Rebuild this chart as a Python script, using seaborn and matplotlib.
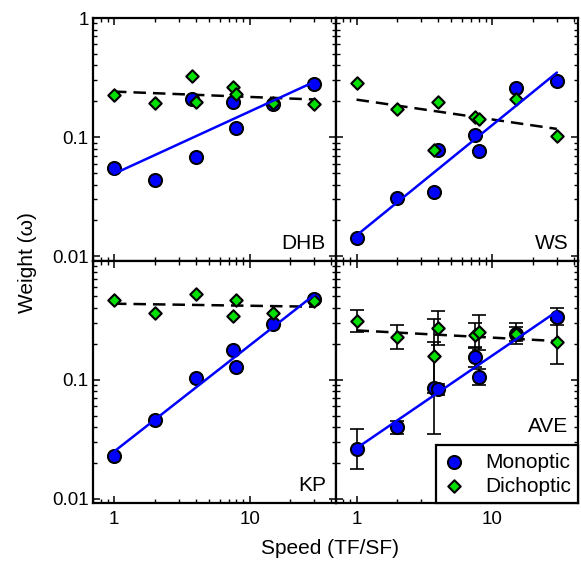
import numpy as np
import pandas as pd
import matplotlib
matplotlib.use('Agg')
import matplotlib.pyplot as plt
import seaborn as sns

# speeds (TF/SF) used in the experiment; KP has no 3.75 condition
speed = [1, 2, 3.75, 4, 7.5, 8, 15, 30]
speed_kp = [1, 2, 4, 7.5, 8, 15, 30]

# weights
dhb_mono = [0.055, 0.044, 0.208, 0.068, 0.198, 0.120, 0.188, 0.277]
dhb_dich = [0.228, 0.194, 0.326, 0.198, 0.262, 0.230, 0.192, 0.189]

ws_mono = [0.0143, 0.031, 0.0347, 0.078, 0.105, 0.077, 0.259, 0.295]
ws_dich = [0.283, 0.173, 0.078, 0.197, 0.148, 0.142, 0.211, 0.103]

kp_mono = [0.0227, 0.0455, 0.103, 0.178, 0.127, 0.291, 0.479]
kp_dich = [0.470, 0.360, 0.528, 0.341, 0.470, 0.360, 0.458]

ave_mono = [0.026, 0.040, 0.085, 0.083, 0.155, 0.105, 0.242, 0.338]
ave_mono_lo = [0.0177, 0.035, 0.035, 0.074, 0.128, 0.090, 0.212, 0.285]
ave_mono_hi = [0.0388, 0.045, 0.208, 0.092, 0.187, 0.123, 0.276, 0.400]

ave_dich = [0.310, 0.228, 0.158, 0.272, 0.235, 0.250, 0.243, 0.206]
ave_dich_lo = [0.250, 0.182, 0.078, 0.197, 0.184, 0.176, 0.200, 0.135]
ave_dich_hi = [0.385, 0.287, 0.326, 0.379, 0.302, 0.352, 0.297, 0.320]

BLUE = '#0000ff'
GREEN = '#00e000'

sns.set_theme(style='ticks')
plt.rcParams['font.family'] = ['Liberation Sans', 'DejaVu Sans']
plt.rcParams['text.color'] = 'black'
plt.rcParams['xtick.labelcolor'] = 'black'
plt.rcParams['ytick.labelcolor'] = 'black'
plt.rcParams['axes.linewidth'] = 1.6


def power_fit(x, y):
    """straight line in log-log space, drawn between the first and last speed"""
    slope, icpt = np.polyfit(np.log10(x), np.log10(y), 1)
    fx = np.array([min(x), max(x)], dtype=float)
    fy = 10 ** (icpt + slope * np.log10(fx))
    return pd.DataFrame({'speed': fx, 'weight': fy})


panels = [
    ('DHB', speed, dhb_mono, dhb_dich),
    ('WS', speed, ws_mono, ws_dich),
    ('KP', speed_kp, kp_mono, kp_dich),
    ('AVE', speed, ave_mono, ave_dich),
]

fig, axes = plt.subplots(2, 2, figsize=(5.81, 5.64), dpi=100)
fig.subplots_adjust(left=0.160, right=0.995, bottom=0.108, top=0.968,
                    wspace=0, hspace=0)

for ax, (name, x, mono, dich) in zip(axes.flat, panels):
    df = pd.DataFrame({'speed': x, 'mono': mono, 'dich': dich})
    is_ave = name == 'AVE'

    if is_ave:
        m = np.array(ave_mono)
        d = np.array(ave_dich)
        ax.errorbar(x, m, yerr=[m - np.array(ave_mono_lo), np.array(ave_mono_hi) - m],
                    fmt='none', ecolor='black', elinewidth=1.2, capsize=5,
                    capthick=1.2, zorder=1)
        ax.errorbar(x, d, yerr=[d - np.array(ave_dich_lo), np.array(ave_dich_hi) - d],
                    fmt='none', ecolor='black', elinewidth=1.2, capsize=5,
                    capthick=1.2, zorder=1)

    sns.lineplot(data=power_fit(x, dich), x='speed', y='weight', ax=ax,
                 color='black', linewidth=1.8, linestyle=(0, (5, 2.8)),
                 estimator=None, zorder=2)
    sns.scatterplot(data=df, x='speed', y='mono', ax=ax, marker='o', s=88,
                    color=BLUE, edgecolor='black', linewidth=1.5,
                    label='Monoptic' if is_ave else None, legend=False,
                    zorder=3)
    sns.scatterplot(data=df, x='speed', y='dich', ax=ax, marker='D', s=40,
                    color=GREEN, edgecolor='black', linewidth=1.5,
                    label='Dichoptic' if is_ave else None, legend=False,
                    zorder=4)
    sns.lineplot(data=power_fit(x, mono), x='speed', y='weight', ax=ax,
                 color=BLUE, linewidth=1.8, estimator=None, zorder=5)

    ax.set_xscale('log')
    ax.set_yscale('log')
    ax.set_xlim(0.7, 43)
    ax.set_ylim(0.0092, 1.0)
    ax.set_xlabel('')
    ax.set_ylabel('')

    ax.set_xticks([1, 10])
    ax.set_xticklabels(['1', '10'])
    ax.set_yticks([0.01, 0.1, 1])
    if name == 'KP':
        ax.set_yticklabels(['0.01', '0.1', ''])
    else:
        ax.set_yticklabels(['0.01', '0.1', '1'])

    ax.tick_params(which='both', direction='in', top=True, right=True,
                   labelsize=13.5, color='black', labelcolor='black')
    ax.tick_params(which='major', length=5, width=1.1)
    ax.tick_params(which='minor', length=2.6, width=1.0)
    ax.tick_params(axis='y', pad=3)
    ax.tick_params(axis='x', pad=6)

    row_top = name in ('DHB', 'WS')
    col_right = name in ('WS', 'AVE')
    ax.tick_params(labelbottom=not row_top, labelleft=not col_right)

    for sp in ax.spines.values():
        sp.set_color('black')
        sp.set_linewidth(1.6)

    label_y = 0.277 if is_ave else 0.033
    ax.text(0.96, label_y, name, transform=ax.transAxes, ha='right',
            va='bottom', fontsize=15)

    if is_ave:
        leg = ax.legend(loc='lower right', borderaxespad=0, fontsize=15,
                        frameon=True, fancybox=False, framealpha=1,
                        edgecolor='black', handlelength=1.0,
                        handletextpad=1.0, labelspacing=0.25,
                        borderpad=0.35, labelcolor='black')
        leg.get_frame().set_linewidth(1.6)

fig.text(0.047, 0.534, 'Weight (\u03c9)', rotation=90, ha='center',
         va='center', fontsize=15)
fig.text(0.568, 0.028, 'Speed (TF/SF)', ha='center', va='center', fontsize=15)

fig.savefig('out.png', dpi=100)
